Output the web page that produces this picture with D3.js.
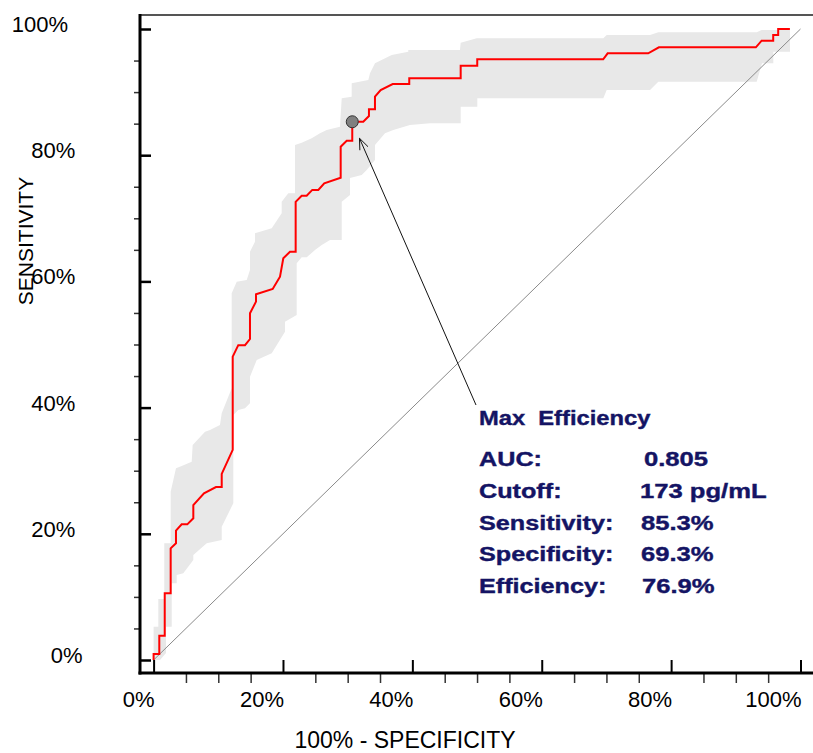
<!DOCTYPE html>
<html>
<head>
<meta charset="utf-8">
<script src="https://cdn.jsdelivr.net/npm/d3@7"></script>
<style>
  body { margin: 0; background: #fff; }
  svg { display: block; font-family: "Liberation Sans", Arial, sans-serif; }
</style>
</head>
<body>
<svg id="chart" width="813" height="753"></svg>
<script>
(function(){
  'use strict';

  // ROC curve, [100 - specificity %, sensitivity %]
  var rocPoints = [
    [0, 0], [0, 0.95], [0.88, 0.95], [0.88, 3.85], [1.72, 3.85], [1.72, 10.57],
    [2.64, 10.57], [2.64, 17.7], [3.46, 18.5], [3.46, 20.5], [4.34, 21.5], [5.21, 21.5],
    [6.14, 22.46], [6.14, 24.56], [7.79, 26.4], [9.64, 27.4], [10.53, 27.4], [10.53, 29.5],
    [12.23, 33.3], [12.23, 48.07], [13.09, 49.9], [14.13, 49.9], [14.9, 50.87], [14.9, 54.94],
    [15.83, 56.8], [15.83, 57.96], [18.41, 58.8], [19.54, 60.75], [20.05, 63.66], [21.08, 64.7],
    [21.96, 64.7], [21.96, 72.6], [22.89, 73.58], [23.66, 73.58], [24.53, 74.5], [25.46, 74.5],
    [26.38, 75.55], [28.92, 76.43], [28.92, 81.35], [29.85, 82.3], [30.71, 82.3], [30.71, 85.3],
    [32.41, 85.3], [33.29, 86.2], [33.29, 87.27], [34.22, 87.27], [34.22, 89.27], [35.1, 90.33],
    [36.96, 91.28], [39.52, 91.28], [39.52, 92.19], [47.47, 92.19], [47.47, 94.18], [50.03, 94.18],
    [50.03, 95.2], [69.5, 95.2], [70.19, 96.15], [76.46, 96.15], [78.11, 97.1], [93.1, 97.1],
    [93.99, 98.15], [95.78, 98.15], [95.78, 99.05], [96.55, 99.05], [96.55, 100], [98.36, 100]
  ];

  // confidence band, upper (left) edge
  var bandUpper = [
    [0, 0], [0, 5.28], [0.73, 5.28], [0.73, 9.67], [1.65, 9.67], [1.65, 18.49], [2.64, 18.49],
    [2.64, 26.67], [3.46, 30.38], [4.34, 30.74], [5.89, 31.43], [6.04, 34.07], [7.95, 36.18],
    [8.72, 36.45], [10.26, 37.24], [10.53, 39.1], [12.07, 43.06], [12.07, 58.11], [12.85, 59.95],
    [14.39, 60.22], [14.9, 61.81], [14.9, 64.71], [15.67, 66.29], [15.67, 67.62], [18.26, 68.42],
    [19.8, 70.79], [19.8, 72.63], [20.82, 73.96], [21.86, 73.96], [21.86, 81.62], [22.89, 81.98],
    [24.44, 82.68], [25.72, 83.47], [26.76, 84.0], [28.81, 84.52], [29.08, 89.02], [30.62, 89.27],
    [30.62, 91.39], [33.19, 91.92], [33.45, 92.98], [34.22, 94.56], [36.81, 95.88], [39.37, 96.4],
    [39.37, 96.67], [47.36, 96.67], [47.47, 97.83], [49.95, 98.53], [69.52, 98.53], [70.04, 99.05],
    [76.74, 99.05], [78.02, 99.48], [93.23, 99.48], [94.0, 99.84], [98.38, 99.84]
  ];

  // confidence band, lower (right) edge
  var bandLower = [
    [0.99, 0], [1.92, 1.11], [1.92, 5.28], [2.8, 5.28], [2.8, 12.16], [3.57, 12.16], [3.57, 13.47],
    [4.59, 13.74], [6.14, 15.85], [6.14, 16.64], [8.21, 18.49], [10.53, 19.02], [10.53, 21.13],
    [12.32, 24.83], [12.32, 38.83], [13.09, 39.62], [14.13, 39.89], [14.9, 40.68], [14.9, 44.9],
    [15.94, 47.54], [18.26, 48.61], [20.31, 52.03], [20.31, 53.61], [22.12, 54.68], [22.12, 62.87],
    [22.89, 63.82], [23.67, 63.82], [24.95, 64.98], [25.99, 65.77], [27.27, 66.56], [29.08, 66.56],
    [29.08, 72.63], [30.36, 73.69], [30.36, 76.39], [32.17, 76.86], [32.94, 77.65], [34.22, 79.24],
    [34.22, 81.62], [35.77, 83.47], [37.05, 83.99], [39.63, 84.79], [42.73, 85.06], [47.47, 85.06],
    [47.47, 87.69], [50.04, 87.69], [50.04, 89.02], [69.52, 89.02], [70.04, 90.33], [76.74, 90.33],
    [78.02, 91.65], [93.23, 91.65], [94.05, 94.56], [95.8, 94.56], [95.8, 96.4], [98.38, 96.4],
    [98.38, 99.84]
  ];

  var diagonal = [[0, 0], [100, 100]];
  var maxEffPoint = [30.71, 85.3];

  var majorTicks = [0, 20, 40, 60, 80, 100];
  var minorTicks = [5, 10, 15, 25, 30, 35, 45, 50, 55, 65, 70, 75, 85, 90, 95];

  var annoTitle = "Max  Efficiency";
  var statLabels = ["AUC:", "Cutoff:", "Sensitivity:", "Specificity:", "Efficiency:"];
  var statValues = ["0.805", "173 pg/mL", "85.3%", "69.3%", "76.9%"];
  var statValueX = [644, 640, 641, 641, 642];

  var svg = d3.select('#chart');
  var W = 813;
  var axisLeftX = 140, axisBottomY = 673, frameTop = 15;

  var x = d3.scaleLinear().domain([0, 100]).range([153.6, 800.5]);
  var y = d3.scaleLinear().domain([0, 100]).range([660, 29]);

  var line = d3.line()
    .x(function(d){ return x(d[0]); })
    .y(function(d){ return y(d[1]); });

  //confidence band
  svg.append('path')
    .datum(bandUpper.concat(bandLower.slice().reverse()))
    .attr('d', function(d){ return line(d) + 'Z'; })
    .attr('fill', '#e8e8e8')
    .attr('stroke', 'none');

  //reference diagonal
  svg.append('path')
    .datum(diagonal)
    .attr('d', line)
    .attr('fill', 'none')
    .attr('stroke', '#8a8a8a')
    .attr('stroke-width', 1);

  //roc curve
  svg.append('path')
    .datum(rocPoints)
    .attr('d', line)
    .attr('fill', 'none')
    .attr('stroke', '#ff0000')
    .attr('stroke-width', 2)
    .attr('stroke-linejoin', 'miter');

  //frame: top line and the two axes
  svg.append('line')
    .attr('x1', axisLeftX).attr('x2', W)
    .attr('y1', frameTop).attr('y2', frameTop)
    .attr('stroke', '#555').attr('stroke-width', 2);

  // x axis ticks
  var gxMinor = svg.append('g')
    .attr('transform', 'translate(0,' + axisBottomY + ')')
    .call(d3.axisBottom(x).tickValues(minorTicks).tickSize(10).tickFormat(''));
  var gxMajor = svg.append('g')
    .attr('transform', 'translate(0,' + axisBottomY + ')')
    .call(d3.axisTop(x).tickValues(majorTicks).tickSize(13).tickFormat(''));
  var gxLabels = svg.append('g')
    .attr('transform', 'translate(0,' + axisBottomY + ')')
    .call(d3.axisBottom(x).tickValues(majorTicks).tickSize(0).tickFormat(function(d){ return d + '%'; }));

  // y axis ticks
  var gyMinor = svg.append('g')
    .attr('transform', 'translate(' + axisLeftX + ',0)')
    .call(d3.axisLeft(y).tickValues(minorTicks).tickSize(6).tickFormat(''));
  var gyMajor = svg.append('g')
    .attr('transform', 'translate(' + axisLeftX + ',0)')
    .call(d3.axisRight(y).tickValues(majorTicks).tickSize(11).tickFormat(''));
  var gyLabels = svg.append('g')
    .call(d3.axisLeft(y).tickValues(majorTicks).tickSize(0).tickFormat(function(d){ return d + '%'; }));

  [gxMinor, gxMajor, gxLabels, gyMinor, gyMajor, gyLabels].forEach(function(g){
    g.select('.domain').remove();
  });
  gxMinor.selectAll('line').attr('stroke', '#333').attr('stroke-width', 1.5);
  gyMinor.selectAll('line').attr('stroke', '#333').attr('stroke-width', 1.5);
  gxMajor.selectAll('line').attr('stroke', '#000').attr('stroke-width', 2);
  gyMajor.selectAll('line').attr('stroke', '#000').attr('stroke-width', 2.5);

  gxLabels.selectAll('text')
    .attr('y', 34).attr('dy', null).attr('x', 0.5)
    .attr('text-anchor', 'end')
    .attr('font-size', 22)
    .attr('font-family', '"Liberation Sans", Arial, sans-serif')
    .attr('fill', '#000');

  // the original places the y labels by string length
  gyLabels.selectAll('text')
    .attr('x', function(d){ return 40 + (4 - (d + '%').length) * 13.3; })
    .attr('dy', null)
    .attr('transform', 'translate(0,2.5)')
    .attr('text-anchor', 'middle')
    .attr('font-size', 22)
    .attr('font-family', '"Liberation Sans", Arial, sans-serif')
    .attr('fill', '#000');

  svg.append('line')
    .attr('x1', axisLeftX).attr('x2', axisLeftX)
    .attr('y1', frameTop - 1).attr('y2', axisBottomY + 1.5)
    .attr('stroke', '#000').attr('stroke-width', 3);
  svg.append('line')
    .attr('x1', axisLeftX - 1.5).attr('x2', W)
    .attr('y1', axisBottomY).attr('y2', axisBottomY)
    .attr('stroke', '#000').attr('stroke-width', 3);

  //axis titles
  svg.append('text')
    .attr('x', 405).attr('y', 748)
    .attr('text-anchor', 'middle')
    .attr('font-size', 23)
    .text('100% - SPECIFICITY');

  svg.append('text')
    .attr('transform', 'translate(33,241) rotate(-90)')
    .attr('text-anchor', 'middle')
    .attr('font-size', 21)
    .text('SENSITIVITY');

  //annotation
  var textX = 479, titleY = 425, firstStatY = 466, lineStep = 31.75;
  var navy = '#141464';

  var cx = x(maxEffPoint[0]), cy = y(maxEffPoint[1]);
  var tailX = textX - 3, tailY = titleY - 20;
  var dx = tailX - cx, dy = tailY - cy, len = Math.sqrt(dx*dx + dy*dy);
  var ux = dx / len, uy = dy / len;
  var tipX = cx + ux * 18, tipY = cy + uy * 18;
  var headLen = 12, ang = 0.38;
  function rot(a){
    return [tipX + headLen * (ux * Math.cos(a) - uy * Math.sin(a)),
            tipY + headLen * (ux * Math.sin(a) + uy * Math.cos(a))];
  }
  var h1 = rot(ang), h2 = rot(-ang);

  svg.append('line')
    .attr('x1', tailX).attr('y1', tailY)
    .attr('x2', tipX).attr('y2', tipY)
    .attr('stroke', '#111').attr('stroke-width', 1);
  svg.append('path')
    .attr('d', 'M' + h1[0] + ',' + h1[1] + 'L' + tipX + ',' + tipY + 'L' + h2[0] + ',' + h2[1])
    .attr('fill', 'none')
    .attr('stroke', '#111')
    .attr('stroke-width', 1);

  svg.append('circle')
    .attr('cx', cx).attr('cy', cy).attr('r', 6)
    .attr('fill', '#808080')
    .attr('stroke', '#333')
    .attr('stroke-width', 1);

  var anno = svg.append('g')
    .attr('fill', navy)
    .attr('stroke', navy)
    .attr('stroke-width', 0.4)
    .attr('font-weight', 'bold')
    .attr('font-size', 21);

  anno.append('text')
    .attr('transform', 'translate(' + textX + ',' + titleY + ') scale(1.13,1)')
    .style('white-space', 'pre')
    .text(annoTitle);

  anno.selectAll('text.lbl')
    .data(statLabels)
    .enter()
    .append('text')
    .attr('class', 'lbl')
    .attr('transform', function(d, i){
      return 'translate(' + textX + ',' + (firstStatY + i * lineStep) + ') scale(1.2,1)';
    })
    .text(function(d){ return d; });

  anno.selectAll('text.val')
    .data(statValues)
    .enter()
    .append('text')
    .attr('class', 'val')
    .attr('transform', function(d, i){
      return 'translate(' + statValueX[i] + ',' + (firstStatY + i * lineStep) + ') scale(1.22,1)';
    })
    .text(function(d){ return d; });

})();
</script>
</body>
</html>
